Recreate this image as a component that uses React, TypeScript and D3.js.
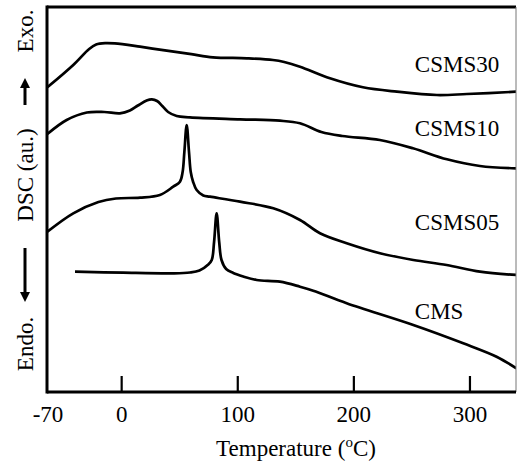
import React from "react";
import * as d3 from "d3";

const xTickValues = [-70, 0, 100, 200, 300];
const xTickMarks = [0, 100, 200, 300];

const seriesNames = ["CSMS30", "CSMS10", "CSMS05", "CMS"];

const csms30: [number, number][] = [
  [-64, 304.7], [-41.7, 327], [-28, 343], [-22, 347.5], [-14, 348.9], [-6, 348.6],
  [15.8, 345.3], [38.8, 341.3], [60, 337.8], [78.6, 334.7], [107.9, 333.7],
  [130.3, 332], [140, 330], [153.6, 325.3], [179.4, 313.7], [207.8, 304.7],
  [237.1, 300.3], [271.5, 297], [297.4, 298], [340, 300.3],
];

const csms10: [number, number][] = [
  [-64, 258], [-47.4, 272], [-30, 279.5], [-15, 280], [-1.5, 278.7],
  [7.1, 281.5], [14, 286.5], [21.5, 291.5], [26, 292.7], [30.5, 291], [35, 286],
  [40, 280], [47.4, 276], [58.8, 274.7], [101.9, 272.7], [136.3, 271.3],
  [153.6, 268.7], [172, 260], [190, 256], [222.4, 252], [250.9, 243.7],
  [280.2, 232.7], [308.6, 226], [340, 223.7],
];

const csms05: [number, number][] = [
  [-64, 160.3], [-41.7, 178.7], [-20, 190], [-5, 193.5], [15.8, 194.3], [32.9, 197],
  [44.4, 205.3], [50.2, 210.3], [52.5, 220], [54, 240], [56, 267],
  [58, 240], [59.5, 220], [61.5, 210.3], [64.6, 202], [70.3, 196.5],
  [76.1, 195.3], [101.9, 190.3], [130.6, 183.7], [153.6, 172], [170.8, 158.7],
  [193.8, 148.7], [222.5, 138.7], [251.2, 132], [279.9, 127], [308.6, 120.3],
  [340, 117],
];

const cms: [number, number][] = [
  [-40.2, 120.3], [1.4, 119.3], [44.4, 118.7], [58.8, 119.5], [67, 121.5],
  [74.6, 127.5], [77.6, 132], [79.6, 150], [81.8, 178.7], [84, 150],
  [86, 132], [90, 123], [96.1, 119], [104.7, 115.5], [116.3, 112],
  [136.3, 110.3], [153.6, 105.3], [165, 101.3], [193.8, 88.7], [251.2, 67],
  [294.2, 48.7], [322.9, 35.3], [340, 23.7],
];

const seriesData = [csms30, csms10, csms05, cms];
const labelAnchors: [number, number][] = [
  [252.5, 320], [252.5, 256], [252.5, 162], [252.5, 73],
];

const W = 517;
const H = 467;
const left = 47;
const right = 516;
const top = 7;
const bottom = 392;

export default function App() {
  const x = d3.scaleLinear().domain([-70, 340]).range([40.4, 516.4]);
  const y = d3.scaleLinear().domain([0, 385]).range([bottom, top]);
  const line = d3
    .line<[number, number]>()
    .x((d) => x(d[0]))
    .y((d) => y(d[1]))
    .curve(d3.curveCatmullRom.alpha(0.5));

  const font = "'Liberation Serif', 'Times New Roman', serif";

  return (
    <svg
      width={W}
      height={H}
      style={{ position: "absolute", left: 0, top: 0, background: "#fff" }}
      fontFamily={font}
    >
      <defs>
        <clipPath id="plot">
          <rect x={left} y={top} width={right - left} height={bottom - top} />
        </clipPath>
      </defs>
      <rect width={W} height={H} fill="#fff" />

      <g clipPath="url(#plot)">
        {seriesData.map((s, i) => (
          <path
            key={seriesNames[i]}
            d={line(s) || ""}
            fill="none"
            stroke="#000"
            strokeWidth={2.7}
            strokeLinejoin="round"
          />
        ))}
      </g>

      {seriesNames.map((n, i) => (
        <text
          key={n}
          x={x(labelAnchors[i][0])}
          y={y(labelAnchors[i][1])}
          fontSize={23}
          fill="#000"
        >
          {n}
        </text>
      ))}

      {/* frame */}
      <line x1={left} x2={right} y1={top} y2={top} stroke="#000" strokeWidth={3} />
      <line x1={right} x2={right} y1={top} y2={bottom} stroke="#777" strokeWidth={1} />
      <line x1={left} x2={left} y1={top - 1.5} y2={bottom + 1.5} stroke="#000" strokeWidth={3} />
      <line x1={left} x2={right} y1={bottom} y2={bottom} stroke="#000" strokeWidth={3} />

      {xTickMarks.map((t) => (
        <line
          key={t}
          x1={x(t)}
          x2={x(t)}
          y1={bottom}
          y2={bottom - 16}
          stroke="#000"
          strokeWidth={2.2}
        />
      ))}
      {xTickValues.map((t) => (
        <text
          key={t}
          x={Math.max(x(t), left + 1)}
          y={422}
          fontSize={23}
          textAnchor="middle"
          fill="#000"
        >
          {t}
        </text>
      ))}
      <text x={296} y={456} fontSize={23} textAnchor="middle" fill="#000">
        Temperature (
        <tspan fontSize={15} dy={-9}>o</tspan>
        <tspan dy={9}>C)</tspan>
      </text>

      {/* y label */}
      <g transform="translate(33,0)">
        <text transform="translate(0,31) rotate(-90)" fontSize={23} textAnchor="middle" fill="#000">Exo.</text>
        <line x1={-8} x2={-8} y1={105} y2={86} stroke="#000" strokeWidth={3} />
        <path d="M -13 88 L -8 78 L -3 88 Z" fill="#000" />
        <text transform="translate(0,175) rotate(-90)" fontSize={23} textAnchor="middle" fill="#000">DSC (au.)</text>
        <line x1={-8} x2={-8} y1={248} y2={294} stroke="#000" strokeWidth={3} />
        <path d="M -13 292 L -8 302 L -3 292 Z" fill="#000" />
        <text transform="translate(0,344) rotate(-90)" fontSize={23} textAnchor="middle" fill="#000">Endo.</text>
      </g>
    </svg>
  );
}
